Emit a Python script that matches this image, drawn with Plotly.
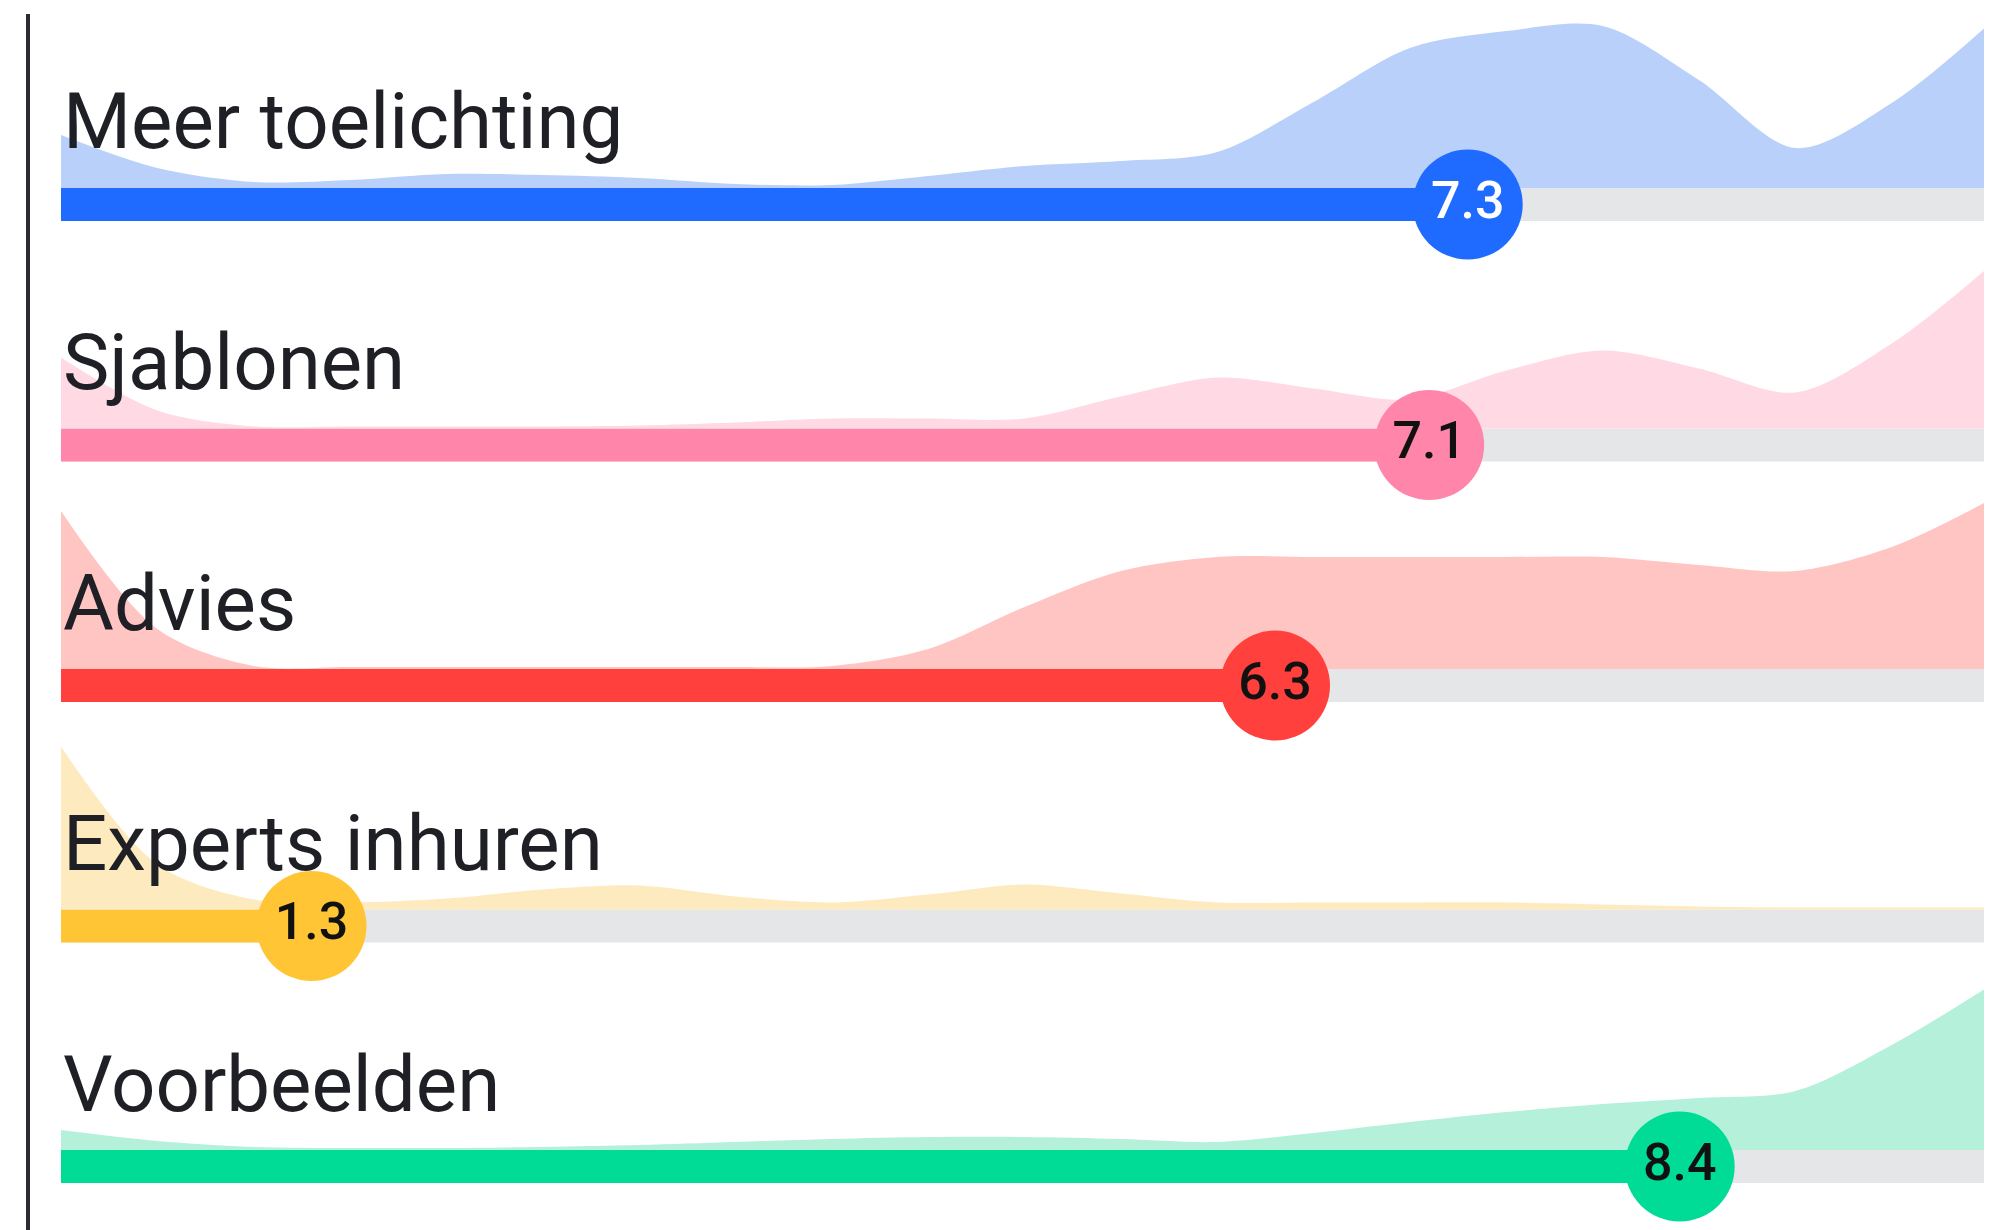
import plotly.graph_objects as go
from plotly.subplots import make_subplots

# ---- data ----
categories = ["Meer toelichting", "Sjablonen", "Advies", "Experts inhuren", "Voorbeelden"]
scores = [7.3, 7.1, 6.3, 1.3, 8.4]
score_labels = ["7.3", "7.1", "6.3", "1.3", "8.4"]
grid = [0, 0.5, 1, 1.5, 2, 2.5, 3, 3.5, 4, 4.5, 5, 5.5, 6, 6.5, 7, 7.5, 8, 8.5, 9, 9.5, 10]
density_meer = [53, 20, 6, 8, 14, 13, 10, 4, 3, 12, 22, 27, 36, 86, 140, 157, 162, 108, 40, 85, 163]
density_sjablonen = [71, 18, 2, 2, 2, 2, 3, 6, 10, 10, 10, 32, 51, 40, 29, 58, 78, 60, 36, 85, 161]
density_advies = [158, 40, 3, 2, 2, 2, 2, 2, 3, 20, 62, 98, 112, 112, 112, 112, 112, 104, 98, 122, 168]
density_experts = [163, 45, 10, 7, 11, 20, 24, 13, 7, 15, 25, 16, 7, 7, 7, 7, 5, 3, 2, 2, 2]
density_voorbeelden = [20, 9, 3, 2, 2, 3, 5, 8, 11, 13, 13, 11, 8, 17, 28, 38, 46, 52, 59, 105, 163]
densities = [density_meer, density_sjablonen, density_advies, density_experts, density_voorbeelden]
scale_max = 10

# ---- styles ----
bar_colors = ["#1f6bff", "#ff86aa", "#ff403c", "#ffc535", "#00db96"]
area_colors = ["#b9d1fa", "#ffd9e4", "#ffc5c3", "#feeabf", "#b5f1da"]
value_text_colors = ["#ffffff", "#111111", "#111111", "#111111", "#111111"]
track_color = "#e4e6e8"
OFF = 8  # page body margin
W, H = 1992 - OFF, 1230 - OFF
bar_top_px = [188 - OFF, 428.5 - OFF, 669 - OFF, 909.5 - OFF, 1150 - OFF]
bar_thick = 33
below, above = 72, 172
x_left, x_right = 61 - OFF, 1988 - OFF

fig = make_subplots(rows=5, cols=1)

for i, cat in enumerate(categories):
    r = i + 1
    fig.add_trace(go.Scatter(x=grid, y=densities[i], mode="lines", fill="tozeroy",
                             line=dict(width=0, shape="spline", smoothing=0.9, color=area_colors[i]),
                             fillcolor=area_colors[i], hoverinfo="skip", showlegend=False), row=r, col=1)
    fig.add_trace(go.Bar(x=[scale_max], y=[-bar_thick / 2], width=bar_thick, orientation="h",
                         marker=dict(color=track_color, line=dict(width=0)), showlegend=False,
                         hoverinfo="skip"), row=r, col=1)
    fig.add_trace(go.Bar(x=[scores[i]], y=[-bar_thick / 2], width=bar_thick, orientation="h",
                         marker=dict(color=bar_colors[i], line=dict(width=0)), showlegend=False,
                         hoverinfo="skip"), row=r, col=1)
    fig.add_trace(go.Scatter(x=[scores[i]], y=[-bar_thick / 2], mode="markers+text",
                             marker=dict(size=110, color=bar_colors[i], line=dict(width=0)),
                             text=[score_labels[i]], textposition="middle center",
                             textfont=dict(family="Roboto", size=52, color=value_text_colors[i], weight=500),
                             cliponaxis=False, showlegend=False, hoverinfo="skip"), row=r, col=1)
    fig.add_annotation(x=0, y=66, xref=f"x{r if r > 1 else ''}", yref=f"y{r if r > 1 else ''}",
                       text=cat, showarrow=False, xanchor="left", yanchor="middle",
                       font=dict(family="Roboto", size=78, color="#1f2026"))
    top = bar_top_px[i] - above
    bot = bar_top_px[i] + below
    ax = dict(domain=[max(0, 1 - bot / H), 1 - top / H], range=[-below, above], visible=False, fixedrange=True)
    fig.update_yaxes(row=r, col=1, **ax)
    fig.update_xaxes(row=r, col=1, domain=[x_left / W, x_right / W], range=[0, scale_max],
                     visible=False, fixedrange=True)

fig.add_shape(type="line", xref="paper", yref="paper", x0=(28 - OFF) / W, x1=(28 - OFF) / W,
              y0=0, y1=1 - (14 - OFF) / H, line=dict(color="#2b2d33", width=4))

fig.update_layout(width=W, height=H, margin=dict(l=0, r=0, t=0, b=0), barmode="overlay",
                  paper_bgcolor="white", plot_bgcolor="rgba(0,0,0,0)", showlegend=False)

fig.write_html("out.html")
